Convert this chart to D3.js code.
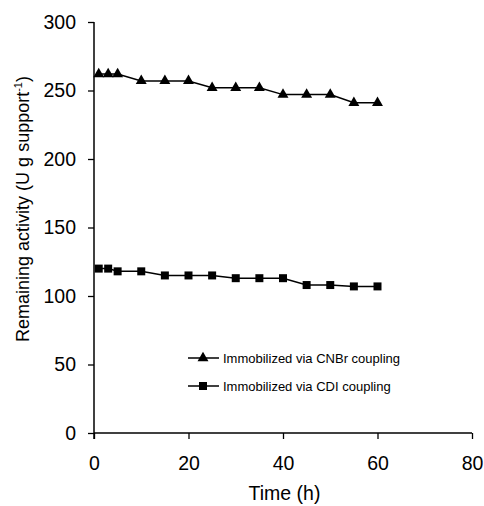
<!DOCTYPE html>
<html>
<head>
<meta charset="utf-8">
<script src="https://cdn.jsdelivr.net/npm/d3@7"></script>
<style>
  body { margin: 0; background: #fff; }
  text { font-family: "Liberation Sans", Arial, sans-serif; fill: #000; }
</style>
</head>
<body>
<svg id="chart" width="484" height="506"></svg>
<script>
const times = [1, 3, 5, 10, 15, 20, 25, 30, 35, 40, 45, 50, 55, 60];
const cnbrValues = [262, 262, 262, 257, 257, 257, 252, 252, 252, 247, 247, 247, 241, 241];
const cdiValues = [120, 120, 118, 118, 115, 115, 115, 113, 113, 113, 108, 108, 107, 107];
const xTicks = [0, 20, 40, 60, 80];
const yTicks = [0, 50, 100, 150, 200, 250, 300];
const seriesNames = ["Immobilized via CNBr coupling", "Immobilized via CDI coupling"];

const svg = d3.select("#chart");
const x = d3.scaleLinear().domain([0, 80]).range([94, 472]);
const y = d3.scaleLinear().domain([0, 300]).range([433, 22]);

// axes
const xAxis = svg.append("g").attr("transform", `translate(0,${y(0)})`)
  .call(d3.axisBottom(x).tickValues(xTicks).tickSize(6).tickPadding(17));
const yAxis = svg.append("g").attr("transform", `translate(${x(0)},0)`)
  .call(d3.axisLeft(y).tickValues(yTicks).tickSize(6).tickPadding(12));
[xAxis, yAxis].forEach(a => {
  a.select(".domain").attr("stroke", "#000").attr("stroke-width", 1.5);
  a.selectAll(".tick line").attr("stroke", "#000").attr("stroke-width", 1.3);
  a.selectAll(".tick text").style("font-size", "19.5px")
    .style("font-family", '"Liberation Sans", Arial, sans-serif').attr("fill", "#000");
});
// y-axis line runs a little below the x-axis
yAxis.select(".domain").attr("d", `M0,${y(300)}V${y(0) + 6}`);
xAxis.select(".domain").attr("d", `M${x(0)},0H${x(80)}`);

svg.append("text").attr("x", 284.5).attr("y", 500)
  .attr("text-anchor", "middle").style("font-size", "19.5px").text("Time (h)");

const yt = svg.append("text").attr("transform", `translate(29,209) rotate(-90)`)
  .attr("text-anchor", "middle").style("font-size", "18px");
yt.append("tspan").text("Remaining activity (U g support");
yt.append("tspan").attr("dy", -7).style("font-size", "11px").text("-1");
yt.append("tspan").attr("dy", 7).text(")");

const line = d3.line().x((d, i) => x(times[i])).y(d => y(d));
const tri = d3.symbol().type(d3.symbolTriangle).size(52);
const sq = d3.symbol().type(d3.symbolSquare).size(64);

function drawSeries(values, sym) {
  svg.append("path").datum(values).attr("d", line)
    .attr("fill", "none").attr("stroke", "#000").attr("stroke-width", 1.5);
  svg.append("g").selectAll("path").data(values).join("path")
    .attr("transform", (d, i) => `translate(${x(times[i])},${y(d)})`)
    .attr("d", sym).attr("fill", "#000");
}
drawSeries(cnbrValues, tri);
drawSeries(cdiValues, sq);

// legend
const legend = svg.append("g").attr("transform", "translate(188,358)");
[tri, sq].forEach((sym, i) => {
  const g = legend.append("g").attr("transform", `translate(0,${i * 28})`);
  g.append("line").attr("x1", 0).attr("x2", 31).attr("stroke", "#000").attr("stroke-width", 1.5);
  g.append("path").attr("transform", "translate(15,0)").attr("d", sym).attr("fill", "#000");
  g.append("text").attr("x", 35).attr("dy", "0.35em").style("font-size", "13px").text(seriesNames[i]);
});
</script>
</body>
</html>
